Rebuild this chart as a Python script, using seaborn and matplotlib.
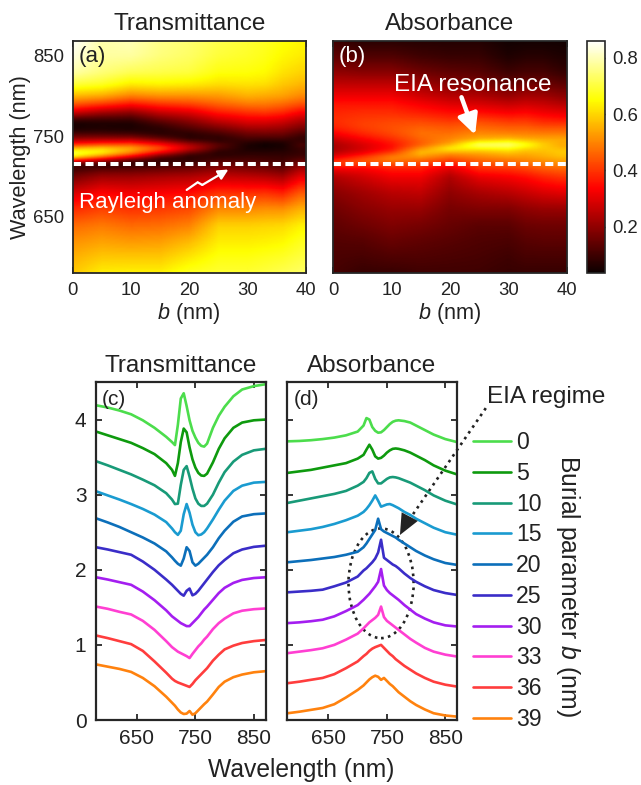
import numpy as np
import matplotlib
matplotlib.use("Agg")
import matplotlib.pyplot as plt
import seaborn as sns
from matplotlib.patches import Ellipse
from matplotlib.lines import Line2D

sns.set_theme(style="ticks")
plt.rcParams["font.family"] = ["Liberation Sans", "DejaVu Sans"]
plt.rcParams["mathtext.fontset"] = "custom"
plt.rcParams["mathtext.rm"] = "Liberation Sans"
plt.rcParams["mathtext.it"] = "Liberation Sans:italic"

# ---------------- data ----------------
wavelength = [580, 600, 620, 640, 660, 680, 700, 710, 715, 720, 725, 730, 735, 740,
              745, 750, 755, 760, 765, 770, 780, 790, 800, 815, 830, 850, 870]
burial = [0, 5, 10, 15, 20, 25, 30, 33, 36, 39]
burial_labels = ["0", "5", "10", "15", "20", "25", "30", "33", "36", "39"]
offset_step = 0.4

trans_b00 = [0.59, 0.56, 0.52, 0.47, 0.39, 0.29, 0.17, 0.10, 0.06, 0.33, 0.68, 0.75, 0.58, 0.39,
             0.25, 0.16, 0.09, 0.05, 0.04, 0.08, 0.29, 0.45, 0.57, 0.71, 0.80, 0.845, 0.87]
trans_b05 = [0.64, 0.59, 0.54, 0.49, 0.42, 0.34, 0.22, 0.13, 0.05, 0.22, 0.50, 0.68, 0.63, 0.43,
             0.27, 0.16, 0.09, 0.055, 0.05, 0.08, 0.23, 0.41, 0.55, 0.69, 0.76, 0.79, 0.80]
trans_b10 = [0.645, 0.59, 0.53, 0.47, 0.40, 0.325, 0.22, 0.135, 0.075, 0.08, 0.33, 0.53, 0.58, 0.44,
             0.28, 0.15, 0.08, 0.05, 0.05, 0.08, 0.20, 0.36, 0.50, 0.64, 0.73, 0.79, 0.81]
trans_b15 = [0.645, 0.59, 0.535, 0.475, 0.41, 0.335, 0.235, 0.15, 0.10, 0.065, 0.12, 0.34, 0.475, 0.36,
             0.20, 0.10, 0.06, 0.07, 0.10, 0.15, 0.27, 0.40, 0.52, 0.65, 0.72, 0.76, 0.77]
trans_b20 = [0.685, 0.63, 0.57, 0.50, 0.43, 0.35, 0.245, 0.165, 0.12, 0.08, 0.055, 0.15, 0.30, 0.25,
             0.10, 0.055, 0.08, 0.12, 0.16, 0.20, 0.30, 0.42, 0.52, 0.64, 0.71, 0.74, 0.75]
trans_b25 = [0.70, 0.67, 0.635, 0.60, 0.51, 0.40, 0.27, 0.20, 0.16, 0.12, 0.08, 0.055, 0.12, 0.15,
             0.06, 0.08, 0.12, 0.17, 0.22, 0.27, 0.37, 0.46, 0.53, 0.62, 0.67, 0.705, 0.72]
trans_b30 = [0.70, 0.67, 0.635, 0.60, 0.51, 0.395, 0.26, 0.18, 0.15, 0.12, 0.09, 0.07, 0.05, 0.05,
             0.09, 0.13, 0.17, 0.22, 0.27, 0.31, 0.40, 0.49, 0.56, 0.625, 0.665, 0.69, 0.70]
trans_b33 = [0.71, 0.68, 0.64, 0.605, 0.52, 0.40, 0.25, 0.17, 0.14, 0.11, 0.09, 0.07, 0.05, 0.025,
             0.08, 0.13, 0.18, 0.22, 0.27, 0.31, 0.41, 0.49, 0.55, 0.62, 0.655, 0.675, 0.685]
trans_b36 = [0.725, 0.69, 0.65, 0.61, 0.52, 0.38, 0.23, 0.15, 0.12, 0.10, 0.085, 0.07, 0.055, 0.04,
             0.08, 0.13, 0.17, 0.21, 0.25, 0.29, 0.39, 0.47, 0.54, 0.59, 0.625, 0.65, 0.665]
trans_b39 = [0.74, 0.71, 0.68, 0.64, 0.56, 0.45, 0.31, 0.23, 0.19, 0.14, 0.10, 0.08, 0.085, 0.12,
             0.07, 0.09, 0.13, 0.17, 0.21, 0.245, 0.34, 0.44, 0.51, 0.57, 0.605, 0.635, 0.65]

abs_b00 = [0.11, 0.115, 0.125, 0.14, 0.16, 0.19, 0.24, 0.32, 0.42, 0.40, 0.30, 0.25, 0.225, 0.23,
           0.26, 0.30, 0.34, 0.37, 0.385, 0.39, 0.38, 0.36, 0.32, 0.26, 0.20, 0.14, 0.10]
abs_b05 = [0.09, 0.11, 0.13, 0.16, 0.19, 0.22, 0.28, 0.33, 0.40, 0.465, 0.40, 0.31, 0.28, 0.29,
           0.32, 0.36, 0.39, 0.41, 0.415, 0.41, 0.39, 0.36, 0.32, 0.26, 0.19, 0.12, 0.07]
abs_b10 = [0.09, 0.12, 0.15, 0.18, 0.21, 0.25, 0.32, 0.37, 0.42, 0.49, 0.51, 0.41, 0.35, 0.35,
           0.38, 0.41, 0.43, 0.435, 0.43, 0.42, 0.39, 0.36, 0.32, 0.26, 0.19, 0.12, 0.07]
abs_b15 = [0.10, 0.12, 0.14, 0.17, 0.21, 0.26, 0.32, 0.37, 0.41, 0.46, 0.52, 0.59, 0.52, 0.44,
           0.455, 0.47, 0.475, 0.46, 0.44, 0.42, 0.37, 0.33, 0.28, 0.22, 0.16, 0.10, 0.067]
abs_b20 = [0.10, 0.115, 0.13, 0.15, 0.17, 0.20, 0.24, 0.30, 0.35, 0.41, 0.47, 0.53, 0.68, 0.54,
           0.51, 0.49, 0.47, 0.45, 0.43, 0.40, 0.35, 0.30, 0.25, 0.19, 0.14, 0.09, 0.065]
abs_b25 = [0.10, 0.11, 0.12, 0.135, 0.18, 0.23, 0.31, 0.39, 0.42, 0.46, 0.50, 0.55, 0.63, 0.80,
           0.56, 0.53, 0.50, 0.47, 0.45, 0.42, 0.35, 0.29, 0.24, 0.18, 0.13, 0.09, 0.065]
abs_b30 = [0.09, 0.10, 0.115, 0.135, 0.18, 0.25, 0.33, 0.40, 0.44, 0.48, 0.53, 0.58, 0.64, 0.81,
           0.59, 0.53, 0.49, 0.46, 0.43, 0.40, 0.33, 0.27, 0.21, 0.15, 0.10, 0.06, 0.045]
abs_b33 = [0.09, 0.11, 0.13, 0.155, 0.20, 0.27, 0.35, 0.42, 0.46, 0.50, 0.53, 0.56, 0.60, 0.71,
           0.57, 0.52, 0.49, 0.46, 0.43, 0.40, 0.34, 0.28, 0.23, 0.16, 0.11, 0.07, 0.045]
abs_b36 = [0.09, 0.11, 0.135, 0.16, 0.21, 0.29, 0.38, 0.45, 0.48, 0.52, 0.55, 0.57, 0.585, 0.60,
           0.56, 0.52, 0.48, 0.45, 0.41, 0.38, 0.32, 0.27, 0.22, 0.16, 0.11, 0.07, 0.045]
abs_b39 = [0.09, 0.11, 0.135, 0.16, 0.21, 0.30, 0.40, 0.46, 0.50, 0.54, 0.57, 0.59, 0.575, 0.535,
           0.56, 0.52, 0.48, 0.45, 0.41, 0.37, 0.31, 0.25, 0.20, 0.14, 0.09, 0.06, 0.045]

colors = ["#4CDD4C", "#0E9A0E", "#189A78", "#1A9BD0", "#0C6FBA",
          "#3A2DC8", "#A41EF0", "#FF3FD2", "#FF3D3D", "#FF820E"]

rayleigh_nm = 715
trans_all = [trans_b00, trans_b05, trans_b10, trans_b15, trans_b20,
             trans_b25, trans_b30, trans_b33, trans_b36, trans_b39]
abs_all = [abs_b00, abs_b05, abs_b10, abs_b15, abs_b20,
           abs_b25, abs_b30, abs_b33, abs_b36, abs_b39]

# ---------------- figure ----------------
W, H = 641, 785
fig = plt.figure(figsize=(W / 100, H / 100), dpi=100)


def rect(x0, y0, x1, y1):
    return [x0 / W, 1 - y1 / H, (x1 - x0) / W, (y1 - y0) / H]


ax_a = fig.add_axes(rect(72.7, 40.7, 306.0, 273.3))
ax_b = fig.add_axes(rect(333.3, 40.7, 566.7, 273.3))
cax = fig.add_axes(rect(586.7, 40.7, 605.0, 273.3))
ax_c = fig.add_axes(rect(95.5, 382.0, 265.5, 720.0))
ax_d = fig.add_axes(rect(287.0, 382.0, 457.0, 720.0))

frame = "#262626"


# heat maps rendered from the same spectra (resampled for display, lightly smoothed along wavelength)
def render_map(values):
    M = np.array(values)
    b_fine = np.linspace(0, 40, 161)
    lam_fine = np.arange(580, 871, 1.0)
    Zb = np.array([np.interp(b_fine, burial, M[:, j]) for j in range(len(wavelength))])
    Z = np.array([np.interp(lam_fine, wavelength, Zb[:, k]) for k in range(len(b_fine))]).T
    sig = 3.0
    kx = np.arange(-10, 11)
    ker = np.exp(-0.5 * (kx / sig) ** 2)
    ker /= ker.sum()
    Zp = np.pad(Z, ((10, 10), (0, 0)), mode="edge")
    Zs = np.array([np.convolve(Zp[:, k], ker, mode="valid") for k in range(Z.shape[1])]).T
    return b_fine, lam_fine, Zs


bt, lt, Zt = render_map(trans_all)
ba, la, Za = render_map(abs_all)
ax_a.pcolormesh(bt, lt, Zt, shading="gouraud", cmap="hot", vmin=0.03, vmax=0.87)
mb = ax_b.pcolormesh(ba, la, Za, shading="gouraud", cmap="hot", vmin=0.035, vmax=0.86)

for ax in (ax_a, ax_b):
    ax.set_xlim(0, 40)
    ax.set_ylim(580, 868)
    ax.set_xticks([0, 10, 20, 30, 40])
    ax.set_yticks([650, 750, 850])
    ax.axhline(rayleigh_nm, color="white", lw=2.9, ls=(0, (2.0, 1.1)))
    ax.tick_params(direction="in", top=True, right=True, length=4, width=1.2,
                   color=frame, labelsize=13.3, pad=6, labelcolor="#222222")
    for s in ax.spines.values():
        s.set_color(frame)
        s.set_linewidth(1.3)
ax_a.set_title("Transmittance", fontsize=17.5, pad=7.5, color="#222222")
ax_b.set_title("Absorbance", fontsize=17.5, pad=7.5, color="#222222")
ax_b.set_yticklabels([])

cb = fig.colorbar(mb, cax=cax)
cb.set_ticks([0.2, 0.4, 0.6, 0.8])
cb.ax.tick_params(direction="in", length=4, width=1.0, labelsize=13.3, pad=5, color=frame,
                  labelcolor="#222222")
cb.outline.set_edgecolor(frame)
cb.outline.set_linewidth(1.2)

ax_a.text(0.024, 0.91, "(a)", transform=ax_a.transAxes, fontsize=16, color="#222222", va="baseline")
ax_b.text(0.021, 0.91, "(b)", transform=ax_b.transAxes, fontsize=16, color="white", va="baseline")

# Rayleigh anomaly annotation
ax_a.text(16.25, 660.5, "Rayleigh anomaly", color="white", fontsize=16, ha="center", va="baseline")
zig_b = [19.54, 21.43, 22.22]
zig_l = [683.2, 692.7, 689.4]
ax_a.plot(zig_b, zig_l, color="white", lw=1.6, solid_joinstyle="miter")
ax_a.annotate("", xy=(26.7, 708.5), xytext=(22.22, 689.4),
              arrowprops=dict(arrowstyle="-|>", mutation_scale=15, color="white", lw=1.6,
                              shrinkA=0, shrinkB=0))

# EIA resonance annotation
ax_b.text(23.86, 806, "EIA resonance", color="white", fontsize=17.5, ha="center", va="baseline")
ax_b.annotate("", xy=(24.3, 751.5), xytext=(21.97, 798.0),
              arrowprops=dict(arrowstyle="-|>", mutation_scale=30, color="white", lw=3.2,
                              shrinkA=0, shrinkB=0))

# line spectra
n = len(burial)
for i, (tv, av, c) in enumerate(zip(trans_all, abs_all, colors)):
    off = offset_step * (n - 1 - i)
    sns.lineplot(x=wavelength, y=np.array(tv) + off, color=c, lw=1.9, ax=ax_c)
    sns.lineplot(x=wavelength, y=np.array(av) + off, color=c, lw=1.9, ax=ax_d)

for ax in (ax_c, ax_d):
    ax.set_xlim(579, 870)
    ax.set_ylim(0, 4.5)
    ax.set_xticks([650, 750, 850])
    ax.set_yticks([0, 1, 2, 3, 4])
    ax.tick_params(direction="in", top=True, right=True, length=4, width=1.3,
                   color=frame, labelsize=15, pad=6.5, labelcolor="#222222")
    for s in ax.spines.values():
        s.set_color(frame)
        s.set_linewidth(1.6)
    ax.set_xlabel("")
    ax.set_ylabel("")
ax_d.set_yticklabels([])
ax_c.set_title("Transmittance", fontsize=17.5, pad=7, color="#222222")
ax_d.set_title("Absorbance", fontsize=17.5, pad=7, color="#222222")
ax_c.text(0.036, 0.932, "(c)", transform=ax_c.transAxes, fontsize=15, color="#222222", va="baseline")
ax_d.text(0.037, 0.932, "(d)", transform=ax_d.transAxes, fontsize=15, color="#222222", va="baseline")

# EIA regime ellipse + dotted arrow
ax_d.add_patch(Ellipse((740, 1.82), width=111.5, height=1.46, fill=False, ls=":",
                       lw=1.9, ec="#222222"))
ax_d.plot([919.3, 778.0], [4.152, 2.55], ls=":", lw=1.9, color="#222222", clip_on=False)
ax_d.annotate("", xy=(772.3, 2.463), xytext=(792.0, 2.75),
              arrowprops=dict(arrowstyle="-|>,head_length=0.5,head_width=0.22",
                              mutation_scale=30, color="#222222", lw=0,
                              shrinkA=0, shrinkB=0), annotation_clip=False)

# figure-level labels
fig.text(21 / W, 1 - 157.5 / H, "Wavelength (nm)", rotation=90, ha="center", va="center",
         fontsize=15.6, color="#222222")
fig.text(189 / W, 1 - 314 / H, r"$\it{b}$ (nm)", ha="center", va="center", fontsize=15.6,
         color="#222222")
fig.text(450 / W, 1 - 314 / H, r"$\it{b}$ (nm)", ha="center", va="center", fontsize=15.6,
         color="#222222")
fig.text(301.5 / W, 1 - 770 / H, "Wavelength (nm)", ha="center", va="center", fontsize=17.7,
         color="#222222")
fig.text(486.7 / W, 1 - 403.3 / H, "EIA regime", ha="left", va="baseline", fontsize=17.5,
         color="#222222")
fig.text(567.5 / W, 1 - 586 / H, r"Burial parameter $\it{b}$ (nm)", rotation=270, ha="center",
         va="center", fontsize=17.8, color="#222222")

handles = [Line2D([0], [0], color=c, lw=1.9) for c in colors]
fig.legend(handles, burial_labels, loc="center left", bbox_to_anchor=(473 / W, 1 - 581 / H),
           frameon=False, fontsize=16.6, handlelength=1.64, handletextpad=0.22,
           labelspacing=0.335, borderpad=0, borderaxespad=0, labelcolor="#222222")

fig.savefig("out.png", dpi=100)
